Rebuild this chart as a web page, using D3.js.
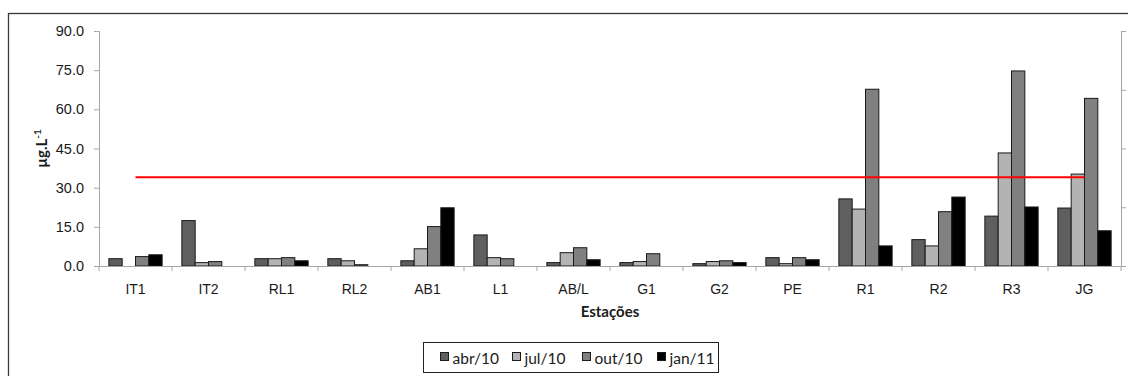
<!DOCTYPE html>
<html>
<head>
<meta charset="utf-8">
<script src="https://cdn.jsdelivr.net/npm/d3@7"></script>
<style>
  html, body { margin: 0; padding: 0; background: #fff; }
  svg { display: block; font-family: Lato, "Open Sans", sans-serif; }
</style>
</head>
<body>
<svg id="chart" width="1128" height="376"></svg>
<script>
const categories = ["IT1", "IT2", "RL1", "RL2", "AB1", "L1", "AB/L", "G1", "G2", "PE", "R1", "R2", "R3", "JG"];
const seriesNames = ["abr/10", "jul/10", "out/10", "jan/11"];
const abr10 = [2.8, 17.4, 2.8, 2.8, 2.0, 11.9, 1.3, 1.3, 0.9, 3.2, 25.7, 10.1, 19.1, 22.2];
const jul10 = [null, 1.3, 2.8, 2.0, 6.6, 3.2, 5.1, 1.7, 1.7, 0.9, 21.8, 7.7, 43.3, 35.2];
const out10 = [3.6, 1.7, 3.2, 0.5, 15.1, 2.8, 7.0, 4.7, 2.0, 3.2, 67.7, 20.8, 74.7, 64.2];
const jan11 = [4.3, null, 2.0, null, 22.3, null, 2.4, null, 1.3, 2.4, 7.7, 26.4, 22.6, 13.5];
const limitValue = 34.0;
const yTicks = [0, 15, 30, 45, 60, 75, 90];
const yTickLabels = ["0.0", "15.0", "30.0", "45.0", "60.0", "75.0", "90.0"];
const rightTicks = [0, 22.5, 45, 67.5, 90];

const seriesValues = [abr10, jul10, out10, jan11];
const colors = ["#5f5f5f", "#b3b3b3", "#808080", "#000000"];

const svg = d3.select("#chart");
const pLeft = 99, pRight = 1121, pTop = 31, pBottom = 266;

// outer border
svg.append("rect").attr("x", 8.5).attr("y", 13.5).attr("width", 1200).attr("height", 500)
  .attr("fill", "none").attr("stroke", "#3a3a3a").attr("stroke-width", 1.3);

const x0 = d3.scaleBand().domain(categories).range([pLeft, pRight]).paddingInner(0).paddingOuter(0);
const x1 = d3.scaleBand().domain(seriesNames).range([0, x0.bandwidth()]).paddingInner(0).paddingOuter(0.74);
const y = d3.scaleLinear().domain([0, 90]).range([pBottom, pTop]);

const axisColor = "#a6a6a6";
const textColor = "#1a1a1a";

// left axis
const yAxis = svg.append("g").attr("transform", `translate(${pLeft},0)`)
  .call(d3.axisLeft(y).tickValues(yTicks).tickFormat((d, i) => yTickLabels[i]).tickSize(5).tickPadding(10));
yAxis.select(".domain").attr("stroke", axisColor);
yAxis.selectAll(".tick line").attr("stroke", axisColor);
yAxis.selectAll("text").attr("font-size", 14.5).attr("fill", textColor);

// right axis
const yAxisR = svg.append("g").attr("transform", `translate(${pRight},0)`)
  .call(d3.axisRight(y).tickValues(rightTicks).tickFormat("").tickSize(5).tickSizeOuter(0));
yAxisR.select(".domain").attr("stroke", axisColor);
yAxisR.selectAll(".tick line").attr("stroke", axisColor);

// bars
const groups = svg.append("g");
seriesValues.forEach((vals, si) => {
  groups.selectAll(null).data(categories.map((c, i) => ({c, v: vals[i]})).filter(d => d.v !== null))
    .enter().append("rect")
    .attr("x", d => x0(d.c) + x1(seriesNames[si]))
    .attr("y", d => y(d.v))
    .attr("width", x1.bandwidth())
    .attr("height", d => y(0) - y(d.v))
    .attr("fill", colors[si])
    .attr("stroke", "#1a1a1a")
    .attr("stroke-width", 1);
});

// x axis
const xAxis = svg.append("g").attr("transform", `translate(0,${pBottom})`)
  .call(d3.axisBottom(x0).tickSize(0).tickPadding(18));
xAxis.select(".domain").attr("stroke", axisColor);
xAxis.selectAll("text").attr("font-size", 14).attr("fill", textColor);
const boundaries = categories.map(c => x0(c)).concat([x0.range()[1]]);
svg.append("g").selectAll("line").data(boundaries).enter().append("line")
  .attr("x1", d => d).attr("x2", d => d).attr("y1", pBottom).attr("y2", pBottom + 5)
  .attr("stroke", axisColor);

// limit line
svg.append("line")
  .attr("x1", x0(categories[0]) + x0.bandwidth() / 2)
  .attr("x2", x0(categories[categories.length - 1]) + x0.bandwidth() / 2)
  .attr("y1", y(limitValue)).attr("y2", y(limitValue))
  .attr("stroke", "#ff0000").attr("stroke-width", 2);

// axis titles
svg.append("text").attr("x", (pLeft + pRight) / 2).attr("y", 317)
  .attr("text-anchor", "middle").attr("font-size", 15).attr("font-weight", "bold").attr("fill", textColor)
  .text("Estações");
const yt = svg.append("text").attr("transform", `translate(47,${(pTop + pBottom) / 2}) rotate(-90)`)
  .attr("text-anchor", "middle").attr("font-size", 15).attr("font-weight", "bold").attr("fill", textColor);
yt.append("tspan").text("µg.L");
yt.append("tspan").attr("dy", -6).attr("font-size", 10).text("-1");

// legend
const lg = svg.append("g");
lg.append("rect").attr("x", 423.5).attr("y", 342.5).attr("width", 295).attr("height", 30)
  .attr("fill", "#fff").attr("stroke", "#222").attr("stroke-width", 1);
const legendX = [440, 512, 582, 657];
seriesNames.forEach((s, i) => {
  lg.append("rect").attr("x", legendX[i] + 0.5).attr("y", 352.5).attr("width", 8).attr("height", 8)
    .attr("fill", colors[i]).attr("stroke", "#1a1a1a");
  lg.append("text").attr("x", legendX[i] + 12.5).attr("y", 363.5).attr("font-size", 15.5).attr("fill", textColor).text(s);
});
</script>
</body>
</html>
